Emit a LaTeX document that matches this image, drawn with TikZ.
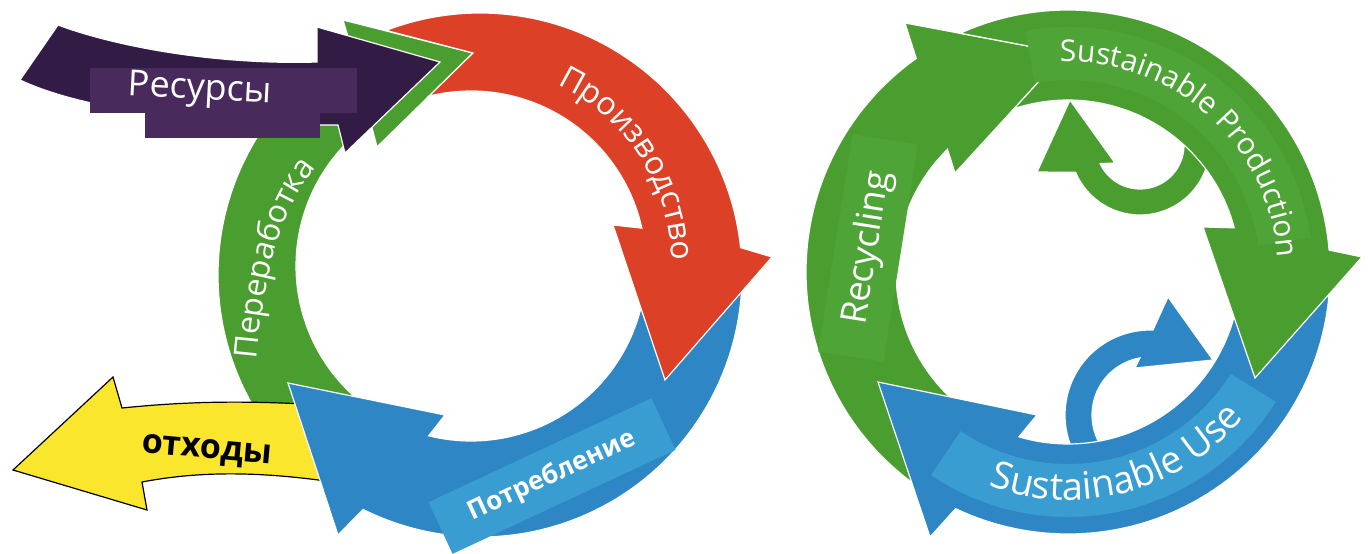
\documentclass[tikz,border=0pt]{standalone}
\usepackage{fontspec}
\setmainfont{Open Sans}
\usetikzlibrary{calc}
\usetikzlibrary{decorations.text}

\definecolor{resdark}{HTML}{321C46}
\definecolor{reslight}{HTML}{482A5C}
\definecolor{recgreen}{HTML}{4A9E2F}
\definecolor{reclight}{HTML}{4FA437}
\definecolor{prodred}{HTML}{DC4128}
\definecolor{consblue}{HTML}{2E86C4}
\definecolor{conslight}{HTML}{3A9DD2}
\definecolor{wasteyellow}{HTML}{FAE62D}

\begin{document}
\begin{tikzpicture}[x=0.5pt, y=0.5pt,
    band/.style={draw=white, line width=0.6pt},
    txt/.style={text=white, inner sep=0pt}]

      \useasboundingbox (0,0) rectangle (1368,553);

      \coordinate (co) at (480,278);
      \coordinate (ci) at (471,287);
      \coordinate (ro) at (1068,281);
      \coordinate (c1) at (1140,408);
      \coordinate (c2) at (1150,138);

      % left cycle
      \filldraw[band, fill=recgreen] ($(co)+(215:262)$) arc[start angle=215, end angle=119.5, radius=262] -- (343,533) -- (473,500) -- (377,406) -- ($(ci)+(125:175)$) arc[start angle=125, end angle=230, radius=175] -- cycle;
      \draw[black, line width=0.6pt, fill=wasteyellow] (13,83) -- (113,176) -- (122,145) .. controls (200,153) and (260,152) .. (340,147) -- (340,70) .. controls (260,82) and (200,82) .. (142,71) -- (147,43) -- cycle;
      \filldraw[band, fill=consblue] ($(co)+(-3.7:262)$) arc[start angle=-3.7, end angle=-116.5, radius=262] -- (338,18) -- (288,170) -- (445,138) -- ($(ci)+(-104:175)$) arc[start angle=-104, end angle=-10, radius=175] -- cycle;
      \filldraw[band, fill=prodred] ($(co)+(111:262)$) arc[start angle=111, end angle=6, radius=262] -- (772,296) -- (665,173) -- (613,328) -- ($(ci)+(12.5:175)$) arc[start angle=12.5, end angle=103.9, radius=175] -- (473,500) -- cycle;
      \filldraw[band, fill=resdark] (58,528) .. controls (120,505) and (220,488) .. (317,491) -- (317,526) -- (440,491) -- (345,400) -- (338,428) .. controls (220,428) and (90,440) .. (20,473) -- cycle;
      \fill[reslight] (90,440) rectangle (357,485);
      \fill[reslight] (145,415) rectangle (320,440);

      \node[txt, font=\fontsize{18}{18}\selectfont, rotate=-3] (res) at (200,462) {Ресурсы};
      \node[inner sep=0pt, font=\bfseries\fontsize{17}{17}\selectfont, rotate=-5] (waste) at (207,101) {отходы};
      \node[txt, fill=conslight, minimum width=123pt, minimum height=28.5pt, rotate=25, font=\bfseries\fontsize{13}{13}\selectfont] (cons) at (552,77) {Потребление};
      \path[decorate, decoration={text along path, text align=center, text={|\color{white}\fontsize{16}{16}\selectfont|Производство}}] ($(ci)+(68:201)$) arc[start angle=68, end angle=-2, radius=201];
      \path[decorate, decoration={text along path, text align=center, text={|\color{white}\fontsize{16}{16}\selectfont|Переработка}}] (254,160) .. controls (262,280) and (280,360) .. (340,410);

      % right cycle
      \filldraw[band, fill=recgreen] ($(c1)+(5:70)$) arc[start angle=5, end angle=-157, radius=70] -- (1037,381) -- (1070,453) -- (1115,390) -- ($(c1)+(-155:44)$) arc[start angle=-155, end angle=5, radius=44] -- cycle;
      \filldraw[band, fill=consblue] ($(c2)+(210:85)$) arc[start angle=210, end angle=88, radius=85] -- (1168,256) -- (1213,193) -- (1135,185) -- ($(c2)+(100:58)$) arc[start angle=100, end angle=210, radius=58] -- cycle;

      \filldraw[band, fill=recgreen] ($(ro)+(235:262)$) arc[start angle=235, end angle=125.4, radius=262] -- (905,530) -- (1065,500) -- (955,380) -- ($(ro)+(134.5:172)$) arc[start angle=134.5, end angle=235, radius=172] -- cycle;
      \fill[reclight, rotate around={81:(868,305)}] (758,272) rectangle (978,338);
      \filldraw[band, fill=consblue] ($(ro)+(-4.9:262)$) arc[start angle=-4.9, end angle=-115.4, radius=262] -- (930,16) -- (878,171) -- (1037,138) -- ($(ro)+(-106.6:172)$) arc[start angle=-106.6, end angle=-12, radius=172] -- cycle;
      \fill[conslight] ($(ro)+(236:245)$) arc[start angle=236, end angle=328, radius=245] -- ($(ro)+(328:192)$) arc[start angle=328, end angle=236, radius=192] -- cycle;
      \filldraw[band, fill=recgreen] ($(ro)+(114.3:262)$) arc[start angle=114.3, end angle=4.8, radius=262] -- (1362,296) -- (1255,175) -- (1203,326) -- ($(ro)+(14.9:172)$) arc[start angle=14.9, end angle=108.3, radius=172] -- (1065,500) -- cycle;
      \fill[reclight] ($(ro)+(100:245)$) arc[start angle=100, end angle=8, radius=245] -- ($(ro)+(8:192)$) arc[start angle=8, end angle=100, radius=192] -- cycle;

      \node[txt, font=\fontsize{18}{18}\selectfont, rotate=81] (recyc) at (868,305) {Recycling};
      \path[decorate, decoration={text along path, text align=center, text={|\color{white}\fontsize{15}{15}\selectfont|Sustainable Production}}] ($(ro)+(100:210)$) arc[start angle=100, end angle=-4, radius=210];
      \path[decorate, decoration={text along path, text align=center, text={|\color{white}\fontsize{19}{19}\selectfont|Sustainable Use}}] ($(ro)+(240:228)$) arc[start angle=240, end angle=330, radius=228];
    \end{tikzpicture}
\end{document}
